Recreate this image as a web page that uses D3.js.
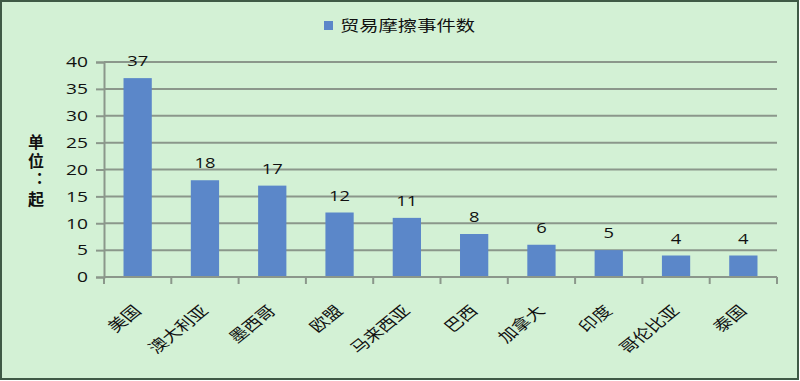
<!DOCTYPE html>
<html lang="zh">
<head>
  <meta charset="UTF-8">
  <title>贸易摩擦事件数</title>
  <style>
    body { margin: 0; background: #fff; }
    #chart { display: block; }
    text { font-family: "Noto Sans CJK SC", "DejaVu Sans", sans-serif; fill: #111; }
  </style>
</head>
<body>
  <script src="https://d3js.org/d3.v7.min.js"></script>
  <svg id="chart" width="800" height="381"></svg>
  <script>
    // 数据
    const categories = ['美国', '澳大利亚', '墨西哥', '欧盟', '马来西亚', '巴西', '加拿大', '印度', '哥伦比亚', '泰国']
    const values = [37, 18, 17, 12, 11, 8, 6, 5, 4, 4]
    const yTicks = [0, 5, 10, 15, 20, 25, 30, 35, 40]
    const seriesName = '贸易摩擦事件数'
    const unitLabel = '单位：起'

    const svg = d3.select('#chart')
    const plotLeft = 104, plotRight = 777, plotTop = 62, plotBottom = 277
    const stretch = 1.25 // 原图横向拉伸
    const numFont = '"Open Sans", "DejaVu Sans", sans-serif'

    // 背景和边框
    svg.append('rect')
      .attr('x', 1).attr('y', 1).attr('width', 797).attr('height', 378)
      .attr('fill', '#d3f1d5')
      .attr('stroke', '#3f5a46').attr('stroke-width', 2)

    const x = d3.scaleBand().domain(categories).range([plotLeft, plotRight]).paddingInner(0.58).paddingOuter(0.29)
    const y = d3.scaleLinear().domain([0, 40]).range([plotBottom, plotTop])

    // 网格线
    svg.append('g').selectAll('line')
      .data(yTicks.filter(d => d > 0))
      .enter().append('line')
      .attr('x1', plotLeft).attr('x2', plotRight)
      .attr('y1', d => y(d)).attr('y2', d => y(d))
      .attr('stroke', '#8b978b').attr('stroke-width', 2)

    // 柱子
    svg.append('g').selectAll('rect')
      .data(values)
      .enter().append('rect')
      .attr('x', (d, i) => x(categories[i]))
      .attr('y', d => y(d))
      .attr('width', x.bandwidth())
      .attr('height', d => y(0) - y(d))
      .attr('fill', '#5b87c9')

    // 数值标签
    svg.append('g').selectAll('text')
      .data(values)
      .enter().append('text')
      .attr('x', (d, i) => x(categories[i]) + x.bandwidth() / 2)
      .attr('y', d => y(d) - 12)
      .attr('text-anchor', 'middle')
      .attr('font-size', 15)
      .attr('textLength', d => String(d).length * 10.5)
      .attr('lengthAdjust', 'spacingAndGlyphs')
      .style('font-family', numFont)
      .text(d => d)

    // y轴
    const yAxis = svg.append('g')
      .attr('transform', `translate(${plotLeft},0)`)
      .call(d3.axisLeft(y).tickValues(yTicks).tickSize(8).tickPadding(8))
    yAxis.select('.domain').attr('stroke', '#8b978b').attr('stroke-width', 2)
    yAxis.selectAll('.tick line').attr('stroke', '#8b978b').attr('stroke-width', 2)
    yAxis.selectAll('.tick text').attr('font-size', 15).attr('fill', '#111')
      .attr('textLength', d => String(d).length * 11)
      .attr('lengthAdjust', 'spacingAndGlyphs')
      .style('font-family', numFont)

    // x轴
    const xEdges = d3.range(categories.length + 1).map(i => plotLeft + i * (plotRight - plotLeft) / categories.length)
    svg.append('line')
      .attr('x1', plotLeft).attr('x2', plotRight)
      .attr('y1', plotBottom).attr('y2', plotBottom)
      .attr('stroke', '#8b978b').attr('stroke-width', 2)
    svg.append('g').selectAll('line')
      .data(xEdges)
      .enter().append('line')
      .attr('x1', d => d).attr('x2', d => d)
      .attr('y1', plotBottom).attr('y2', plotBottom + 7)
      .attr('stroke', '#8b978b').attr('stroke-width', 2)

    // 分类标签 (旋转 -45, 横向拉伸)
    svg.append('g').selectAll('text')
      .data(categories)
      .enter().append('text')
      .attr('transform', d => `translate(${x(d) + x.bandwidth() / 2 - 8},${plotBottom + 25}) scale(${stretch},1) rotate(-45)`)
      .attr('text-anchor', 'end')
      .attr('dominant-baseline', 'hanging')
      .attr('font-size', 15)
      .attr('fill', '#3c3c3c')
      .text(d => d)

    // 单位 (竖排)
    svg.append('text')
      .attr('x', 36)
      .attr('y', 134)
      .attr('writing-mode', 'vertical-rl')
      .attr('font-size', 16)
      .attr('font-weight', 'bold')
      .attr('letter-spacing', 3)
      .text(unitLabel)

    // 图例
    svg.append('rect')
      .attr('x', 324).attr('y', 21).attr('width', 9).attr('height', 9)
      .attr('fill', '#5b87c9')
    svg.append('text')
      .attr('x', 340).attr('y', 31)
      .attr('font-size', 15)
      .attr('textLength', 135)
      .attr('lengthAdjust', 'spacingAndGlyphs')
      .text(seriesName)
  </script>
</body>
</html>
